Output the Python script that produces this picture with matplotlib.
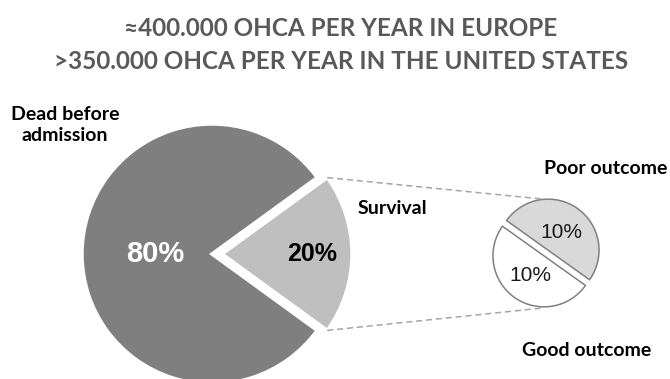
import numpy as np
import matplotlib
matplotlib.use("Agg")
import matplotlib.pyplot as plt

# data
main_labels = ["Dead before\nadmission", "Survival"]
main_values = [80, 20]
main_colors = ["#7f7f7f", "#bfbfbf"]

sub_labels = ["Poor outcome", "Good outcome"]
sub_values = [10, 10]
sub_colors = ["#d9d9d9", "#ffffff"]

title_lines = ["\u2248400.000 OHCA PER YEAR IN EUROPE",
               ">350.000 OHCA PER YEAR IN THE UNITED STATES"]

W, H = 670, 379
fig = plt.figure(figsize=(W / 100, H / 100), dpi=100)
ax = fig.add_axes([0, 0, 1, 1])

lato = ["Lato", "DejaVu Sans"]

# big pie (explode is in data units here)
big_c = (212, H - 254)
big_r = 130
wedges, _ = ax.pie(main_values, colors=main_colors, startangle=36,
                   center=big_c, radius=big_r, explode=[0, 10],
                   wedgeprops=dict(edgecolor="white", linewidth=2.5),
                   frame=True)

# small pie
small_c = (546, H - 253)
small_r = 51
swedges, _ = ax.pie(sub_values, colors=sub_colors, startangle=-35.5,
                    center=small_c, radius=small_r, explode=[3.5, 3.5],
                    wedgeprops=dict(edgecolor="#808080", linewidth=1.1),
                    frame=True)
ax.set_xlim(0, W)
ax.set_ylim(0, H)
ax.set_aspect("equal")
ax.axis("off")


def wedge_point(w, ang, frac):
    cx, cy = w.center
    a = np.deg2rad(ang)
    return cx + frac * w.r * np.cos(a), cy + frac * w.r * np.sin(a)


# percentage labels
x, y = wedge_point(wedges[0], 180, 0.44)
ax.text(x, y, f"{main_values[0]}%", color="white", fontsize=21, fontweight="bold",
        family="Liberation Sans", ha="center", va="center")
x, y = wedge_point(wedges[1], 0, 0.69)
ax.text(x, y, f"{main_values[1]}%", color="black", fontsize=18, fontweight="bold",
        family="Liberation Sans", ha="center", va="center")
for w, v in zip(swedges, sub_values):
    mid = (w.theta1 + w.theta2) / 2
    x, y = wedge_point(w, mid, 0.46)
    ax.text(x, y - 1, f"{v}%", color="#1a1a1a", fontsize=15,
            family="Liberation Sans", ha="center", va="center")

# connector lines
p1 = wedge_point(wedges[1], wedges[1].theta2, 1.0)
p2 = wedge_point(wedges[1], wedges[1].theta1, 1.0)
q1 = (small_c[0] - 4, small_c[1] + small_r + 3)
q2 = (small_c[0] - 3, small_c[1] - small_r - 4)
ax.plot([p1[0], q1[0]], [p1[1], q1[1]], ls=(0, (4, 2.5)), color="#a6a6a6", lw=1.1)
ax.plot([p2[0], q2[0]], [p2[1], q2[1]], ls=(0, (4, 2.5)), color="#a6a6a6", lw=1.1)

# category labels
ax.text(65, H - 125, main_labels[0], fontsize=14, fontweight="bold", family=lato,
        ha="center", va="center", linespacing=1.35)
ax.text(358, H - 209, main_labels[1], fontsize=14, fontweight="bold", family=lato,
        ha="left", va="center")
ax.text(606, H - 169, sub_labels[0], fontsize=14, fontweight="bold", family=lato,
        ha="center", va="center")
ax.text(587, H - 351, sub_labels[1], fontsize=14, fontweight="bold", family=lato,
        ha="center", va="center")

# title
ax.text(W / 2 + 6, H - 36, title_lines[0], fontsize=17.5, fontweight="bold",
        family=lato, color="#595959", ha="center", va="baseline")
ax.text(W / 2 + 6, H - 69, title_lines[1], fontsize=17.5, fontweight="bold",
        family=lato, color="#595959", ha="center", va="baseline")

fig.savefig("out.png", dpi=100, facecolor="white")
